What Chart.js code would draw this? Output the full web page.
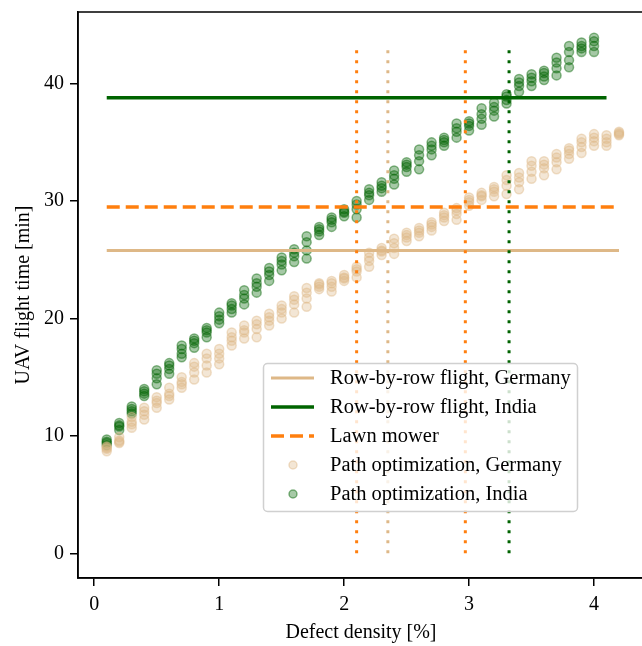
<!DOCTYPE html>
<html>
<head>
<meta charset="utf-8">
<script src="https://cdn.jsdelivr.net/npm/chart.js@4"></script>
<style>
  html, body { margin: 0; padding: 0; background: #fff; overflow: hidden; }
  #wrap { width: 660px; height: 646px; }
</style>
</head>
<body>
<div id="wrap"><canvas id="myChart" width="660" height="646"></canvas></div>
<script>
// defect densities [%]
const germanyX = [0.1,0.2,0.3,0.4,0.5,0.6,0.7,0.8,0.9,1.0,1.1,1.2,1.3,1.4,1.5,1.6,1.7,1.8,1.9,2.0,2.1,
                  2.2,2.3,2.4,2.5,2.6,2.7,2.8,2.9,3.0,3.1,3.2,3.3,3.4,3.5,3.6,3.7,3.8,3.9,4.0,4.1,4.2];
const indiaX = germanyX.slice(0, 40);

// path optimization flight times [min], several runs per density
const germanyRun1 = [8.7,9.4,10.7,11.4,12.4,13.1,14.1,14.8,15.4,16.1,17.7,18.3,18.4,19.4,20.0,20.5,21.0,22.5,22.3,23.2,23.5,
                     24.4,25.4,25.5,26.6,27.0,27.5,28.3,28.4,29.6,30.1,30.4,30.6,31.0,31.9,32.2,32.7,33.6,34.1,34.7,34.7,35.6];
const germanyRun2 = [9.1,9.9,11.6,12.4,13.3,14.1,15.0,16.2,17.0,17.4,18.8,19.4,19.8,20.4,21.1,21.9,22.6,23.0,23.2,23.7,24.4,
                     25.6,26.0,26.8,27.3,27.7,28.2,29.0,29.4,30.3,30.7,31.2,32.2,32.4,33.4,33.4,34.0,34.5,35.3,35.7,35.6,35.9];
const germanyRun3 = [8.9,9.6,11.2,11.8,12.8,13.6,14.6,15.4,16.0,16.6,18.1,18.8,19.1,19.8,20.5,21.2,21.7,22.7,22.7,23.4,24.0,
                     24.9,25.7,26.0,26.9,27.3,27.8,28.6,28.9,29.9,30.4,30.8,31.3,31.6,32.5,32.8,33.3,34.0,34.6,35.1,35.0,35.7];
const germanyRun4 = [9.0,9.5,11.0,12.1,13.0,13.4,14.4,15.9,16.6,17.0,18.4,19.0,19.5,20.1,20.8,21.6,22.2,22.9,23.0,23.5,24.2,
                     25.2,25.8,26.4,27.1,27.5,28.0,28.8,29.2,30.1,30.5,31.0,31.8,32.0,33.0,33.1,33.7,34.3,35.0,35.4,35.3,35.8];

const indiaRun1 = [9.2,10.5,11.9,13.4,14.4,15.3,16.7,17.5,18.4,19.6,20.5,21.2,22.2,23.2,24.1,24.8,25.1,27.1,27.8,28.7,
                   28.6,30.1,30.8,31.4,32.5,32.7,33.9,34.7,35.4,36.0,36.5,37.2,38.3,39.3,39.8,40.3,40.7,41.4,42.7,42.7];
const indiaRun2 = [9.7,11.1,12.5,14.0,15.6,16.2,17.7,18.3,19.2,20.5,21.3,22.4,23.4,24.3,25.2,25.9,27.0,27.8,28.6,29.3,
                   30.0,31.0,31.6,32.6,33.3,34.4,35.0,35.4,36.6,36.8,37.9,38.4,39.1,40.4,40.8,41.1,42.2,43.2,43.5,43.9];
const indiaRun3 = [9.4,10.8,12.1,13.6,14.9,15.7,17.0,17.9,18.8,19.9,20.8,21.7,22.7,23.7,24.6,25.3,25.8,27.4,28.2,29.0,
                   29.3,30.5,31.1,31.9,32.9,33.4,34.4,35.0,35.9,36.4,37.0,37.7,38.6,39.8,40.2,40.6,41.3,42.0,43.0,43.2];
const indiaRun4 = [9.5,10.9,12.3,13.8,15.3,16.0,17.4,18.1,19.0,20.2,21.1,22.0,23.0,24.0,24.9,25.6,26.5,27.6,28.4,29.1,
                   29.7,30.7,31.3,32.2,33.1,33.9,34.7,35.2,36.2,36.6,37.4,38.0,38.9,40.1,40.5,40.9,41.8,42.7,43.2,43.6];

// reference flight times [min] and their x extents
const rowGermany = 25.8;
const rowIndia = 38.8;
const lawnMower = 29.5;
const rowGermanySpan = [0.1, 4.2];
const rowIndiaSpan = [0.1, 4.1];
const lawnMowerSpan = [0.1, 4.2];

// break-even densities [%] (vertical dotted markers) and their height
const breakLawnIndia = 2.1;
const breakRowGermany = 2.35;
const breakLawnGermany = 2.97;
const breakRowIndia = 3.32;
const breakSpan = [0, 43];

const xTicks = [0, 1, 2, 3, 4];
const yTicks = [0, 10, 20, 30, 40];

const TAN = '#deb887';
const GREEN = '#006400';
const ORANGE = '#ff7f0e';
const FONT = "'Liberation Serif', 'DejaVu Serif', serif";

function points(xs, runs) {
    let pts = [];
    for (let i = 0; i < xs.length; i++) {
        for (let r = 0; r < runs.length; r++) {
            pts.push({x: xs[i], y: runs[r][i]});
        }
    }
    return pts;
}

function hline(y, span) {
    return [{x: span[0], y: y}, {x: span[1], y: y}];
}

function vline(x) {
    return [{x: x, y: breakSpan[0]}, {x: x, y: breakSpan[1]}];
}

function lineSet(label, data, color, width, dash) {
    return {
        label: label, data: data, showLine: true, borderColor: color, backgroundColor: color,
        borderWidth: width, borderDash: dash || [], pointRadius: 0, pointHoverRadius: 0,
        borderCapStyle: 'butt', fill: false
    };
}

// first datasets are drawn on top
const datasets = [
    lineSet('', vline(breakLawnIndia), ORANGE, 3, [3, 7]),
    lineSet('', vline(breakRowGermany), TAN, 3, [3, 7]),
    lineSet('', vline(breakLawnGermany), ORANGE, 3, [3, 7]),
    lineSet('', vline(breakRowIndia), GREEN, 3, [3, 7]),
    lineSet('Row-by-row flight, Germany', hline(rowGermany, rowGermanySpan), TAN, 3),
    lineSet('Row-by-row flight, India', hline(rowIndia, rowIndiaSpan), GREEN, 3.5),
    lineSet('Lawn mower', hline(lawnMower, lawnMowerSpan), ORANGE, 3.5, [13, 6]),
    {
        label: 'Path optimization, Germany', data: points(germanyX, [germanyRun1, germanyRun2, germanyRun3, germanyRun4]),
        pointRadius: 4.5, borderWidth: 1.5,
        backgroundColor: 'rgba(222,184,135,0.35)', borderColor: 'rgba(222,184,135,0.45)'
    },
    {
        label: 'Path optimization, India', data: points(indiaX, [indiaRun1, indiaRun2, indiaRun3, indiaRun4]),
        pointRadius: 4.5, borderWidth: 1.5,
        backgroundColor: 'rgba(0,100,0,0.35)', borderColor: 'rgba(0,100,0,0.45)'
    }
];

// top and right spines
const frame = {
    id: 'frame',
    afterDatasetsDraw(chart) {
        const a = chart.chartArea, ctx = chart.ctx;
        ctx.save();
        ctx.strokeStyle = '#000';
        ctx.lineWidth = 1.5;
        ctx.strokeRect(a.left, a.top, a.right - a.left, a.bottom - a.top);
        ctx.restore();
    }
};

// matplotlib-like legend inside the axes
const legendBox = {
    id: 'legendBox',
    afterDraw(chart) {
        const ctx = chart.ctx;
        const entries = [4, 5, 6, 7, 8];
        const box = {x: 263.5, y: 363.5, w: 314, h: 148};
        ctx.save();
        ctx.beginPath();
        ctx.roundRect(box.x, box.y, box.w, box.h, 4);
        ctx.fillStyle = 'rgba(255,255,255,0.8)';
        ctx.fill();
        ctx.strokeStyle = '#d0d0d0';
        ctx.lineWidth = 1.5;
        ctx.stroke();
        ctx.font = '20.5px ' + FONT;
        ctx.textBaseline = 'middle';
        entries.forEach((di, k) => {
            const ds = chart.data.datasets[di];
            const y = 378 + k * 29;
            if (ds.showLine) {
                ctx.beginPath();
                ctx.setLineDash(ds.borderDash);
                ctx.lineCap = 'butt';
                ctx.strokeStyle = ds.borderColor;
                ctx.lineWidth = ds.borderWidth;
                ctx.moveTo(271, y);
                ctx.lineTo(314, y);
                ctx.stroke();
                ctx.setLineDash([]);
            } else {
                ctx.beginPath();
                ctx.arc(293, y, 4, 0, Math.PI * 2);
                ctx.fillStyle = ds.backgroundColor;
                ctx.fill();
                ctx.strokeStyle = ds.borderColor;
                ctx.lineWidth = 1.5;
                ctx.stroke();
            }
            ctx.fillStyle = '#000';
            ctx.fillText(ds.label, 330, y + 1);
        });
        ctx.restore();
    }
};

const ctx = document.getElementById('myChart').getContext('2d');
new Chart(ctx, {
    type: 'scatter',
    data: {datasets: datasets},
    options: {
        responsive: false,
        animation: false,
        devicePixelRatio: 1,
        events: [],
        layout: {padding: {top: 12, right: 16, left: 0, bottom: 0}},
        plugins: {legend: {display: false}, tooltip: {enabled: false}},
        scales: {
            x: {
                type: 'linear', min: -0.13, max: 4.4,
                afterBuildTicks: (s) => { s.ticks = xTicks.map(v => ({value: v})); },
                afterFit: (s) => { s.height = 68; s.paddingLeft = 0; s.paddingRight = 0; },
                grid: {drawOnChartArea: false, drawTicks: true, tickLength: 8, color: '#000', lineWidth: 1.5},
                border: {display: true, color: '#000', width: 1.5},
                ticks: {color: '#000', padding: 7, font: {family: FONT, size: 20}},
                title: {display: true, text: 'Defect density [%]', color: '#000',
                        font: {family: FONT, size: 20}, padding: {top: 0, bottom: 1}}
            },
            y: {
                type: 'linear', min: -2.1, max: 46.1,
                afterBuildTicks: (s) => { s.ticks = yTicks.map(v => ({value: v})); },
                afterFit: (s) => { s.width = 78; s.paddingTop = 0; s.paddingBottom = 0; },
                grid: {drawOnChartArea: false, drawTicks: true, tickLength: 8, color: '#000', lineWidth: 1.5},
                border: {display: true, color: '#000', width: 1.5},
                ticks: {color: '#000', padding: 6, font: {family: FONT, size: 20}},
                title: {display: true, text: 'UAV flight time [min]', color: '#000',
                        font: {family: FONT, size: 20}, padding: {top: 12, bottom: 0}}
            }
        }
    },
    plugins: [frame, legendBox]
});
</script>
</body>
</html>
